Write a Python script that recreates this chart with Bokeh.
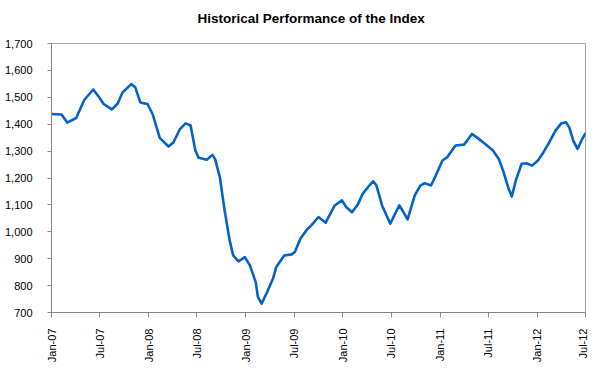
from datetime import datetime
from bokeh.plotting import figure
from bokeh.models import Range1d, NumeralTickFormatter, DatetimeTickFormatter, MonthsTicker, SingleIntervalTicker, Title
from bokeh.embed import file_html
from bokeh.resources import INLINE

dates = ["2007-01-01", "2007-02-08", "2007-03-01", "2007-04-04", "2007-05-04", "2007-06-07",
         "2007-06-29", "2007-07-16", "2007-08-16", "2007-09-07", "2007-09-25", "2007-10-28",
         "2007-11-12", "2007-12-01", "2007-12-28", "2008-01-16", "2008-02-12", "2008-03-16",
         "2008-04-04", "2008-04-28", "2008-05-19", "2008-06-07", "2008-06-25", "2008-07-07",
         "2008-08-07", "2008-08-28", "2008-09-07", "2008-09-25", "2008-10-13", "2008-11-01",
         "2008-11-14", "2008-12-04", "2008-12-28", "2009-01-16", "2009-02-07", "2009-02-15",
         "2009-03-01", "2009-03-22", "2009-04-13", "2009-04-25", "2009-05-25", "2009-06-22",
         "2009-07-04", "2009-07-25", "2009-08-16", "2009-09-04", "2009-10-01", "2009-10-28",
         "2009-12-01", "2009-12-28", "2010-01-13", "2010-02-04", "2010-02-26", "2010-03-16",
         "2010-04-10", "2010-04-25", "2010-05-07", "2010-05-28", "2010-06-28", "2010-07-13",
         "2010-08-01", "2010-08-13", "2010-09-01", "2010-09-28", "2010-10-19", "2010-11-04",
         "2010-11-28", "2010-12-16", "2011-01-10", "2011-01-28", "2011-02-28", "2011-04-01",
         "2011-04-13", "2011-05-01", "2011-05-19", "2011-06-19", "2011-07-19", "2011-08-10",
         "2011-08-28", "2011-09-16", "2011-09-28", "2011-10-13", "2011-11-04", "2011-11-22",
         "2011-12-13", "2012-01-04", "2012-01-25", "2012-02-16", "2012-03-10", "2012-04-01",
         "2012-04-19", "2012-05-01", "2012-05-16", "2012-06-01", "2012-06-19", "2012-07-01"]

index_values = [1438, 1436, 1406, 1423, 1490, 1529,
                1500, 1475, 1455, 1477, 1518, 1549,
                1537, 1481, 1475, 1438, 1349, 1317,
                1333, 1382, 1403, 1395, 1302, 1275,
                1268, 1286, 1271, 1203, 1079, 968,
                912, 890, 906, 875, 813, 758,
                733, 776, 826, 869, 912, 916,
                925, 974, 1005, 1024, 1055, 1034,
                1098, 1117, 1092, 1073, 1102, 1141,
                1172, 1188, 1172, 1098, 1030, 1061,
                1098, 1079, 1046, 1135, 1172, 1181,
                1172, 1209, 1265, 1277, 1321, 1324,
                1339, 1364, 1351, 1327, 1302, 1271,
                1222, 1160, 1131, 1191, 1253, 1255,
                1246, 1265, 1296, 1333, 1376, 1403,
                1407, 1388, 1339, 1308, 1346, 1366]

title_text = "Historical Performance of the Index"

x = [datetime.strptime(d, "%Y-%m-%d") for d in dates]

FONT = "Liberation Sans"

p = figure(width=589, height=365, x_axis_type="datetime",
           output_backend="svg", toolbar_location=None,
           min_border_left=51, min_border_right=4, min_border_top=43, min_border_bottom=53)

p.x_range = Range1d(datetime(2007, 1, 1), datetime(2012, 7, 1))
p.y_range = Range1d(700, 1700)

p.line(x, index_values, line_color="#0563C8", line_width=2.6, line_join="round", line_cap="round")

# small spacer between the title and the frame, then the title itself
p.add_layout(Title(text=" ", text_font_size="1px"), "above")
p.add_layout(Title(text=title_text, text_font=FONT, text_font_size="13.5px",
                   text_font_style="bold", text_color="#000000",
                   align="left", offset=146), "above")

p.xgrid.visible = False
p.ygrid.visible = False
p.outline_line_color = "#a6a6a6"
p.outline_line_width = 1
p.background_fill_color = "white"
p.border_fill_color = "white"

p.yaxis.ticker = SingleIntervalTicker(interval=100, num_minor_ticks=0)
p.yaxis.formatter = NumeralTickFormatter(format="0,0")
p.xaxis.ticker = MonthsTicker(months=[0, 6])
p.xaxis.formatter = DatetimeTickFormatter(months="%b-%y", days="%b-%y", years="%b-%y")
p.xaxis.major_label_orientation = 1.5708

for ax in (p.xaxis, p.yaxis):
    ax.axis_line_color = "#868686"
    ax.major_tick_line_color = "#868686"
    ax.minor_tick_line_color = None
    ax.major_tick_in = 0
    ax.major_tick_out = 5
    ax.major_label_text_font = FONT
    ax.major_label_text_font_size = "11px"
    ax.major_label_text_color = "#000000"

p.yaxis.major_tick_out = 4
p.yaxis.major_label_standoff = 15
p.xaxis.major_label_standoff = 11

open("out.html", "w").write(file_html(p, INLINE))
